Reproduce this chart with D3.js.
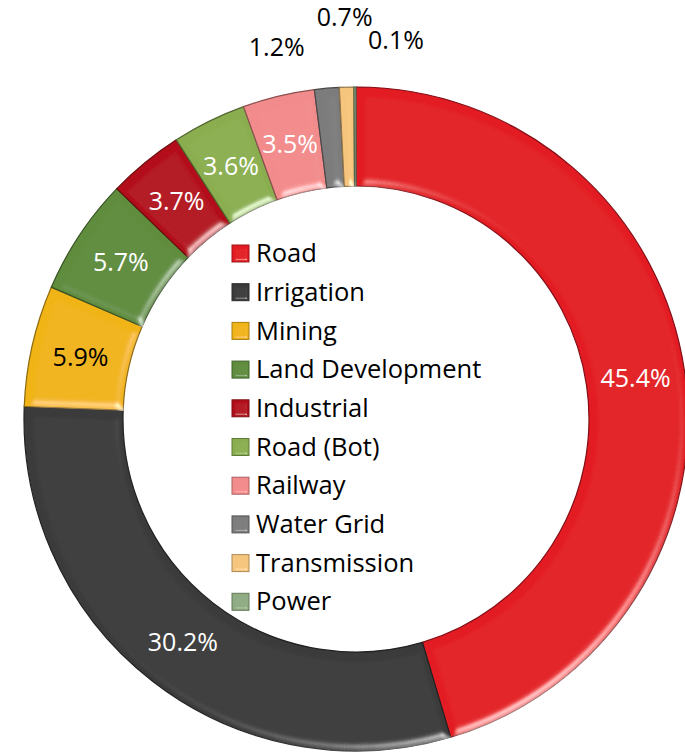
<!DOCTYPE html>
<html>
<head>
<meta charset="utf-8">
<script src="https://cdn.jsdelivr.net/npm/d3@7"></script>
<style>
  body { margin: 0; background: #fff; }
  svg { display: block; font-family: "Open Sans", Lato, sans-serif; }
</style>
</head>
<body>
<svg id="chart"></svg>
<script>
const width = 685
const height = 754

const categories = ["Road", "Irrigation", "Mining", "Land Development", "Industrial",
    "Road (Bot)", "Railway", "Water Grid", "Transmission", "Power"]
const shares = [45.4, 30.2, 5.9, 5.7, 3.7, 3.6, 3.5, 1.2, 0.7, 0.1]
const labels = ["45.4%", "30.2%", "5.9%", "5.7%", "3.7%", "3.6%", "3.5%", "1.2%", "0.7%", "0.1%"]
const colors = ["#e21b24", "#3a3a3a", "#f0b416", "#5e8c3c", "#b3101a",
    "#8aae4f", "#f28b8b", "#7b7b7b", "#f5c57d", "#8fab83"]
const labelColors = ["#fff", "#fff", "#000", "#fff", "#fff", "#fff", "#fff", "#000", "#000", "#000"]

// small slices get their labels pushed outside the ring (angle offset in degrees, radius)
const outside = {
    "Water Grid": { da: -7, r: 380 },
    "Transmission": { da: 0, r: 402 },
    "Power": { da: 6.2, r: 381 }
}

const cx = 356, cy = 419
const outerR = 332, innerR = 233

const svg = d3.select("#chart").attr("width", width).attr("height", height)

const defs = svg.append("defs")
function bevel(id, blur) {
    const f = defs.append("filter").attr("id", id)
        .attr("x", "-5%").attr("y", "-5%").attr("width", "110%").attr("height", "110%")
    f.append("feGaussianBlur").attr("in", "SourceAlpha").attr("stdDeviation", blur).attr("result", "blur")
    f.append("feSpecularLighting").attr("in", "blur").attr("surfaceScale", 5)
        .attr("specularConstant", 0.5).attr("specularExponent", 30)
        .attr("lighting-color", "#ffffff").attr("result", "spec")
        .append("feDistantLight").attr("azimuth", 60).attr("elevation", 30)
    f.append("feComposite").attr("in", "spec").attr("in2", "SourceAlpha")
        .attr("operator", "in").attr("result", "specOut")
    f.append("feComposite").attr("in", "SourceGraphic").attr("in2", "specOut")
        .attr("operator", "arithmetic").attr("k1", 0).attr("k2", 1).attr("k3", 1).attr("k4", 0)
}
bevel("bevel", 4)
bevel("bevelSmall", 1.5)

const data = categories.map((c, i) => ({ name: c, value: shares[i], label: labels[i], color: colors[i], tc: labelColors[i] }))

const pie = d3.pie().sort(null).value(d => d.value)
const arcs = pie(data)

const arc = d3.arc().innerRadius(innerR).outerRadius(outerR)
const labelArc = d3.arc().innerRadius((innerR + outerR) / 2).outerRadius((innerR + outerR) / 2)

const g = svg.append("g").attr("transform", `translate(${cx},${cy})`)

g.selectAll("path.slice")
    .data(arcs)
    .join("path")
    .attr("class", "slice")
    .attr("d", arc)
    .attr("fill", d => d.data.color)
    .attr("stroke", d => d3.color(d.data.color).darker(1.5))
    .attr("stroke-width", 1.2)
    .attr("filter", "url(#bevel)")

g.selectAll("text.pct")
    .data(arcs)
    .join("text")
    .attr("class", "pct")
    .attr("transform", d => {
        const o = outside[d.data.name]
        if (o) {
            const a = (d.startAngle + d.endAngle) / 2 + o.da * Math.PI / 180
            return `translate(${o.r * Math.sin(a)},${-o.r * Math.cos(a)})`
        }
        return `translate(${labelArc.centroid(d)})`
    })
    .attr("text-anchor", "middle")
    .attr("dy", "0.36em")
    .attr("font-size", 25)
    .attr("fill", d => d.data.tc)
    .text(d => d.data.label)

// legend
const legend = svg.append("g").attr("transform", "translate(232,253)")
const rowH = 38.7
const item = legend.selectAll("g")
    .data(data)
    .join("g")
    .attr("transform", (d, i) => `translate(0,${i * rowH})`)

item.append("rect")
    .attr("x", 0).attr("y", -8).attr("width", 17).attr("height", 17)
    .attr("fill", d => d.color)
    .attr("stroke", d => d3.color(d.color).darker(1))
    .attr("stroke-width", 1)
    .attr("filter", "url(#bevelSmall)")

item.append("text")
    .attr("x", 24)
    .attr("dy", "0.36em")
    .attr("font-size", 25.5)
    .attr("fill", "#000")
    .text(d => d.name)
</script>
</body>
</html>
